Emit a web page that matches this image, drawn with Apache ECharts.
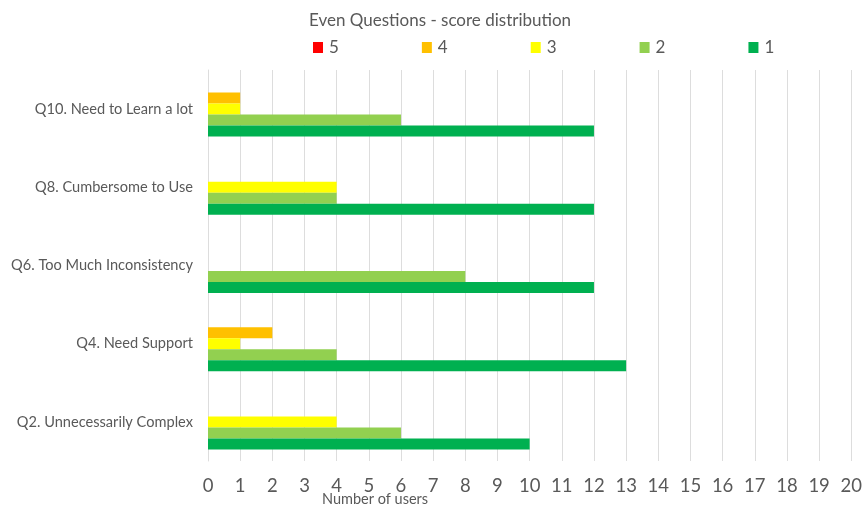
<!DOCTYPE html>
<html><head><meta charset="utf-8">
<script src="https://cdn.jsdelivr.net/npm/echarts@6/dist/echarts.min.js"></script>
<style>html,body{margin:0;padding:0;background:#fff}#c{width:865px;height:508px}</style>
</head><body><div id="c"></div>
<script>
const categories = ['Q2. Unnecessarily Complex','Q4. Need Support','Q6. Too Much Inconsistency','Q8. Cumbersome to Use','Q10. Need to Learn a lot'];
const seriesNames = ['5','4','3','2','1'];
const score5 = [0,0,0,0,0];
const score4 = [0,2,0,0,1];
const score3 = [4,1,0,4,1];
const score2 = [6,4,8,4,6];
const score1 = [10,13,12,12,12];
const colors = ['#FF0000','#FFC000','#FFFF00','#92D050','#00B050'];
const values = [score5,score4,score3,score2,score1];
const xTicks = {min:0,max:20,interval:1};
const font = 'Lato, "Open Sans", sans-serif';
const txt = '#595959';
const chart = echarts.init(document.getElementById('c'));
chart.setOption({
  animation:false,
  title:{text:'Even Questions - score distribution',left:304,top:7,
    textStyle:{fontFamily:font,fontSize:17,fontWeight:'normal',color:txt}},
  legend:{data:seriesNames,left:308,top:34,itemWidth:10,itemHeight:11,itemGap:83,icon:'rect',
    textStyle:{fontFamily:font,fontSize:17,color:txt,padding:[0,0,0,1]}},
  grid:{left:208,right:9,top:70,bottom:47},
  graphic:[{type:'text',left:322,top:492,style:{text:'Number of users',font:'14.5px '+font,fill:txt}}],
  xAxis:{type:'value',min:xTicks.min,max:xTicks.max,interval:xTicks.interval,
    axisLine:{show:false},axisTick:{show:false},
    axisLabel:{fontFamily:font,fontSize:18.5,color:txt,margin:16},
    splitLine:{lineStyle:{color:'#DDDDDD',width:1}}},
  yAxis:{type:'category',data:categories,
    axisLine:{lineStyle:{color:'#DDDDDD'}},
    axisTick:{length:5,lineStyle:{color:'#DDDDDD'}},
    axisLabel:{fontFamily:font,fontSize:14.6,color:txt,margin:15}},
  series:values.map((v,i)=>({name:seriesNames[i],type:'bar',data:v,barWidth:11,barGap:'0%',
    itemStyle:{color:colors[i]}}))
});
</script></body></html>
